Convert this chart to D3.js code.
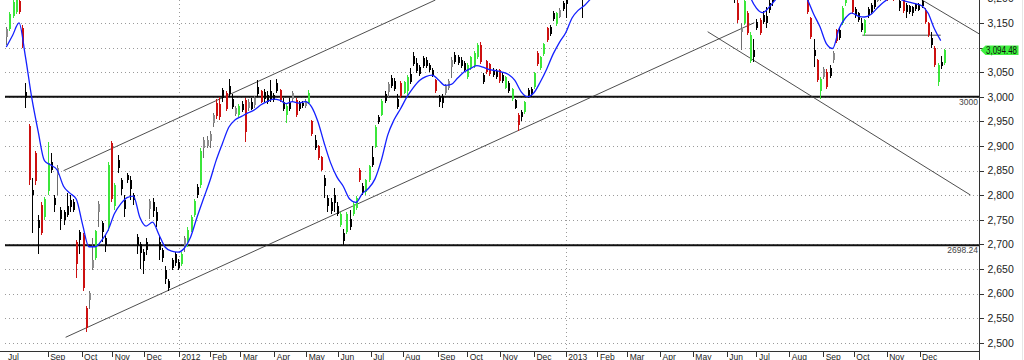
<!DOCTYPE html>
<html><head><meta charset="utf-8">
<script src="https://cdn.jsdelivr.net/npm/d3@7/dist/d3.min.js"></script>
<style>
html,body{margin:0;padding:0;background:#fff;}
svg{display:block;font-family:"Liberation Sans",Arial,sans-serif;}
</style></head><body>
<svg id="c" width="1024" height="360"></svg>
<script>
// ---------- data ----------
const candleStart = "2011-07-24";
const candleStepDays = 3;
const opens = [
3122,3138,3165,3172,3195,3140,3010,2940,2810,2885,
2750,2780,2755,2808,2868,2795,2840,2770,2765,2778,
2790,2785,2705,2725,2718,2570,2586,2652,2672,2766,
2743,2712,2735,2905,2778,2872,2830,2790,2840,2830,
2800,2715,2700,2685,2705,2772,2785,2765,2705,2688,
2648,2625,2668,2680,2665,2660,2696,2705,2730,2760,
2817,2820,2896,2900,2910,2946,2988,2985,3013,3008,
3022,2995,2965,2962,2985,2993,2978,2990,2984,3020,
3012,3010,3004,3012,3003,3028,3014,2990,2962,2990,
2995,2993,2987,2988,2982,2988,2950,2912,2900,2877,
2835,2795,2785,2800,2778,2740,2722,2725,2752,2762,
2774,2851,2818,2806,2830,2878,2898,2959,2963,3006,
3010,3038,3032,2996,3028,3008,3012,3046,3082,3068,
3060,3078,3075,3065,3054,3034,3000,3002,3007,3018,
3060,3085,3080,3075,3068,3040,3058,3062,3080,3105,
3044,3072,3066,3055,3052,3054,3044,3018,3028,2995,
2993,2963,2969,2968,3013,3015,3020,3089,3058,3086,
3140,3142,3170,3148,3163,3190,3202,3200,3222,3232,
3226,3215,3212,3236,3260,3265,3280,3285,3290,3285,
3275,3280,3295,3300,3305,3280,3270,3275,3285,3280,
3290,3295,3300,3285,3290,3300,3305,3310,3300,3275,
3280,3290,3285,3290,3310,3330,3350,3365,3375,3380,
3400,3410,3420,3440,3450,3400,3380,3340,3310,3212,
3190,3132,3150,3170,3072,3095,3152,3156,3166,3165,
3190,3205,3200,3218,3230,3245,3250,3240,3255,3245,
3235,3240,3215,3160,3095,3074,3012,3040,3050,3058,
3075,3135,3135,3150,3190,3210,3205,3178,3170,3150,
3130,3178,3186,3196,3195,3196,3205,3222,3205,3224,
3205,3194,3196,3186,3184,3182,3188,3188,3194,3176,
3150,3120,3100,3030,3070,3068];
const highs = [
3142,3172,3198,3210,3200,3145,3027,2945,2835,2890,
2760,2785,2796,2908,2885,2800,2862,2775,2770,2805,
2800,2792,2708,2730,2722,2575,2606,2712,2730,2788,
2748,2718,2868,2910,2825,2882,2835,2800,2845,2838,
2805,2720,2705,2690,2712,2792,2795,2775,2716,2692,
2655,2630,2672,2685,2670,2685,2716,2735,2760,2792,
2822,2895,2918,2920,2930,2966,2995,3000,3018,3012,
3035,3005,2982,2985,2992,2998,2995,2998,3002,3034,
3014,3016,3012,3034,3008,3035,3016,2998,2985,2998,
3012,2998,2992,2992,2996,3013,2952,2922,2902,2880,
2840,2800,2795,2815,2785,2765,2732,2765,2770,2785,
2798,2855,2825,2832,2862,2900,2942,2963,2995,3012,
3030,3045,3038,3006,3032,3032,3045,3058,3090,3078,
3064,3082,3080,3068,3058,3036,3004,3006,3026,3036,
3080,3090,3084,3080,3072,3068,3082,3092,3110,3112,
3048,3074,3068,3058,3056,3056,3048,3042,3032,3018,
2996,2966,2972,2992,3018,3020,3050,3092,3082,3110,
3142,3146,3174,3172,3180,3194,3210,3228,3240,3245,
3238,3225,3242,3266,3272,3285,3292,3298,3294,3290,
3286,3300,3306,3312,3308,3284,3282,3290,3290,3296,
3300,3306,3302,3295,3305,3310,3316,3314,3302,3286,
3295,3294,3296,3315,3335,3355,3370,3380,3386,3405,
3415,3425,3445,3458,3452,3406,3384,3346,3314,3230,
3196,3150,3205,3175,3132,3118,3158,3160,3174,3182,
3196,3212,3228,3236,3252,3258,3254,3262,3258,3250,
3248,3244,3220,3162,3118,3076,3040,3060,3056,3064,
3092,3138,3140,3185,3215,3225,3210,3182,3172,3160,
3158,3182,3190,3200,3212,3215,3220,3226,3222,3228,
3218,3205,3198,3190,3186,3185,3190,3190,3198,3180,
3152,3132,3104,3068,3082,3097];
const lows = [
3105,3134,3160,3168,3168,3100,2977,2820,2722,2820,
2680,2718,2750,2800,2845,2765,2800,2730,2740,2755,
2765,2765,2632,2680,2605,2521,2568,2648,2668,2735,
2705,2685,2728,2785,2770,2845,2800,2755,2825,2790,
2780,2680,2650,2640,2678,2752,2755,2735,2668,2665,
2620,2605,2648,2655,2648,2655,2684,2695,2725,2755,
2795,2815,2875,2895,2895,2938,2955,2952,2990,2970,
3000,2975,2960,2958,2968,2908,2970,2972,2978,3000,
2988,2990,2985,2990,2990,3008,2990,2970,2946,2970,
2990,2958,2970,2978,2978,2985,2920,2892,2872,2848,
2795,2765,2762,2765,2758,2735,2698,2720,2730,2758,
2770,2826,2800,2800,2826,2858,2895,2944,2960,2988,
3000,3018,3012,2975,2998,3005,3004,3026,3062,3048,
3042,3058,3058,3050,3040,3008,2980,2978,3004,3014,
3038,3066,3064,3058,3050,3036,3055,3058,3076,3066,
3026,3046,3042,3040,3036,3028,3028,3015,3008,2992,
2975,2930,2950,2964,2998,3000,3016,3062,3055,3082,
3112,3124,3154,3144,3160,3174,3160,3198,3212,3215,
3205,3160,3206,3230,3250,3258,3272,3278,3278,3268,
3270,3276,3290,3295,3275,3262,3265,3270,3272,3276,
3284,3290,3280,3280,3286,3295,3300,3295,3268,3270,
3276,3278,3280,3286,3305,3325,3345,3358,3368,3375,
3392,3402,3415,3432,3395,3372,3335,3302,3255,3190,
3150,3095,3146,3126,3068,3070,3136,3126,3148,3140,
3170,3185,3198,3210,3222,3238,3232,3236,3240,3228,
3230,3210,3168,3117,3060,3030,2996,3036,3016,3038,
3068,3110,3115,3146,3185,3200,3168,3160,3152,3132,
3124,3160,3168,3178,3192,3194,3198,3194,3200,3194,
3200,3175,3170,3160,3168,3165,3174,3174,3180,3148,
3122,3100,3060,3022,3056,3064];
const closes = [
3138,3168,3192,3200,3172,3105,2998,2830,2800,2828,
2733,2722,2792,2865,2852,2780,2856,2752,2750,2760,
2775,2770,2660,2708,2612,2530,2602,2668,2727,2782,
2725,2696,2862,2792,2820,2856,2812,2772,2830,2812,
2790,2698,2682,2667,2688,2788,2768,2748,2688,2672,
2630,2612,2652,2662,2652,2680,2712,2730,2756,2788,
2800,2890,2912,2912,2925,2962,2960,2958,2998,2975,
3006,2980,2978,2982,2972,2928,2990,2975,2998,3005,
2990,2995,2990,2996,2994,3012,2993,2975,2982,2975,
3008,2962,2974,2982,2992,3008,2925,2896,2876,2852,
2818,2778,2768,2784,2762,2762,2706,2762,2736,2782,
2795,2830,2805,2830,2860,2862,2938,2948,2992,2992,
3026,3022,3016,2980,3002,3030,3040,3030,3066,3052,
3046,3062,3062,3054,3044,3012,2990,2988,3022,3032,
3075,3070,3068,3062,3055,3065,3080,3088,3106,3070,
3030,3050,3046,3044,3040,3032,3032,3040,3012,3016,
2978,2942,2958,2990,3002,3004,3048,3066,3080,3108,
3116,3128,3158,3170,3177,3178,3188,3222,3232,3226,
3215,3212,3236,3260,3265,3280,3285,3290,3285,3275,
3280,3295,3300,3305,3280,3270,3275,3285,3280,3290,
3295,3300,3285,3290,3300,3305,3310,3300,3275,3280,
3290,3285,3290,3310,3330,3350,3365,3375,3380,3400,
3410,3420,3440,3450,3400,3380,3340,3310,3260,3198,
3156,3138,3195,3130,3126,3080,3140,3130,3152,3150,
3176,3192,3218,3230,3245,3250,3240,3255,3245,3235,
3240,3225,3172,3122,3082,3034,3036,3056,3020,3042,
3089,3114,3120,3180,3210,3215,3172,3164,3156,3136,
3155,3164,3172,3182,3208,3210,3215,3200,3218,3202,
3212,3180,3174,3172,3172,3170,3178,3176,3184,3152,
3126,3106,3064,3065,3062,3094.48];

const maStart = "2011-07-24";
const maStepDays = 6;
const maValues = [
3101,3125,3150,3082,2998,2930,2870,2861,2851,2818,
2804,2792,2740,2695,2695,2708,2728,2762,2782,2795,
2798,2755,2737,2745,2720,2694,2686,2684,2692,2715,
2755,2792,2828,2870,2905,2938,2953,2960,2967,2973,
2983,2990,2995,2993,2986,2990,2987,2990,2980,2950,
2906,2866,2837,2818,2792,2785,2803,2814,2833,2871,
2922,2953,2975,2999,3018,3033,3041,3044,3034,3023,
3025,3038,3050,3057,3063,3060,3055,3053,3050,3045,
3033,3010,3000,3008,3030,3056,3086,3110,3130,3160,
3176,3186,3200,3215,3230,3245,3255,3265,3275,3280,
3285,3285,3285,3290,3295,3295,3300,3300,3310,3335,
3360,3385,3405,3410,3385,3330,3260,3205,3180,3171,
3182,3197,3210,3215,3225,3215,3198,3168,3142,3108,
3098,3138,3160,3170,3164,3162,3167,3180,3192,3200,
3202,3196,3192,3189,3185,3170,3138,3114];

const yTicks = [2500,2550,2600,2650,2700,2750,2800,2850,2900,2950,3000,3050,3100,3150,3200];
const monthTickDates = ["2011-07-01","2011-09-01","2011-10-03","2011-11-01","2011-12-01","2012-01-03","2012-02-01","2012-03-01","2012-04-02","2012-05-02","2012-06-01","2012-07-02","2012-08-01","2012-09-03","2012-10-01","2012-11-01","2012-12-03","2013-01-02","2013-02-01","2013-03-01","2013-04-01","2013-05-02","2013-06-03","2013-07-01","2013-08-01","2013-09-02","2013-10-01","2013-11-01","2013-12-02"];
const monthTickLabels = ["Jul","Sep","Oct","Nov","Dec","2012","Feb","Mar","Apr","May","Jun","Jul","Aug","Sep","Oct","Nov","Dec","2013","Feb","Mar","Apr","May","Jun","Jul","Aug","Sep","Oct","Nov","Dec"];
const levelValues = [3000, 2698.24];
const levelLabels = ["3000", "2698.24"];
const trendLines = [
  [["2011-09-16",2849.6],["2012-09-01",3196.5]],
  [["2011-09-18",2511.0],["2013-06-29",3150.4]],
  [["2013-05-16",3132.1],["2014-01-19",2800.2]],
  [["2013-11-28",3204.7],["2014-01-28",3126.8]],
  [["2013-10-09",3125.0],["2013-12-22",3125.0]]
];
const lastPrice = 3094.48;

// ---------- layout ----------
const L = 5, R = 979.5, T = 0, B = 351.5;
const parse = d3.timeParse("%Y-%m-%d");
const x = d3.scaleTime().domain([parse("2012-01-03"), parse("2013-01-02")]).range([179, 565.7]);
const y = d3.scaleLinear().domain([2700, 3000]).range([244.3, 96.7]);

const svg = d3.select("#c");
svg.append("defs").append("clipPath").attr("id","plot")
  .append("rect").attr("x",L).attr("y",T).attr("width",R-L).attr("height",B-T);

const n = Math.min(opens.length, highs.length, lows.length, closes.length);
const s0 = parse(candleStart);
const candles = d3.range(n).map(i => ({
  date: d3.timeDay.offset(s0, candleStepDays*i),
  o: opens[i], h: highs[i], l: lows[i], c: closes[i]
}));
const m0 = parse(maStart);
const ma = maValues.map((v,k) => ({date: d3.timeDay.offset(m0, maStepDays*k), v}));

// grid
const grid = svg.append("g").attr("shape-rendering","crispEdges");
grid.selectAll("line.h").data(yTicks.filter(v => y(v) > 1 && y(v) < B-1)).join("line")
  .attr("x1",L).attr("x2",R).attr("y1",d=>Math.round(y(d))+0.5).attr("y2",d=>Math.round(y(d))+0.5)
  .attr("stroke","#9a9a9a").attr("stroke-dasharray","1,3");
const yearTicks = monthTickDates.filter((d,i)=>/^\d{4}$/.test(monthTickLabels[i]));
grid.selectAll("line.v").data(yearTicks).join("line")
  .attr("x1",d=>Math.round(x(parse(d)))+0.5).attr("x2",d=>Math.round(x(parse(d)))+0.5)
  .attr("y1",T).attr("y2",B).attr("stroke","#9a9a9a").attr("stroke-dasharray","1,3");

const plot = svg.append("g").attr("clip-path","url(#plot)");

// level lines
plot.selectAll("line.lvl").data(levelValues).join("line")
  .attr("x1",L).attr("x2",R).attr("y1",d=>y(d)).attr("y2",d=>y(d))
  .attr("stroke","#111").attr("stroke-width",2);

// trend lines
const tl = d3.line().x(d=>x(parse(d[0]))).y(d=>y(d[1]));
plot.selectAll("path.tl").data(trendLines).join("path")
  .attr("d",tl).attr("fill","none").attr("stroke","#3a3a3a").attr("stroke-width",0.9);

// candles
const GREEN="#3be63b", RED="#cc1010", BLACK="#000", GREY="#8c8c8c";
function col(d){const b=d.c-d.o; if(b>=20) return GREEN; if(b<=-20) return RED; return b>=0?GREY:BLACK;}
const cg = plot.append("g").attr("shape-rendering","crispEdges");
const cs = cg.selectAll("g").data(candles).join("g");
cs.append("line")
  .attr("x1",d=>Math.round(x(d.date))+0.5).attr("x2",d=>Math.round(x(d.date))+0.5)
  .attr("y1",d=>y(d.h)).attr("y2",d=>y(d.l))
  .attr("stroke",d=>col(d)===GREY?"#6e6e6e":col(d));
cs.append("rect")
  .attr("x",d=>Math.round(x(d.date))-0.5).attr("width",2)
  .attr("y",d=>y(Math.max(d.o,d.c)))
  .attr("height",d=>Math.max(1, Math.abs(y(d.o)-y(d.c))))
  .attr("fill",d=>col(d));

// moving average
plot.append("path").datum(ma)
  .attr("d", d3.line().x(d=>x(d.date)).y(d=>y(d.v)).curve(d3.curveMonotoneX))
  .attr("fill","none").attr("stroke","#1420ff").attr("stroke-width",1.3);

// level labels
svg.selectAll("text.lvl").data(levelValues).join("text")
  .attr("x",R-1.5).attr("y",d=>y(d)+8.3).attr("text-anchor","end")
  .attr("font-size","8.5px").attr("fill","#444").text((d,i)=>levelLabels[i]);

// frame
svg.append("line").attr("x1",0).attr("x2",R).attr("y1",B).attr("y2",B).attr("stroke","#333").attr("shape-rendering","crispEdges");
svg.append("line").attr("x1",R).attr("x2",R).attr("y1",0).attr("y2",360).attr("stroke","#333").attr("shape-rendering","crispEdges");
svg.append("line").attr("x1",1022.5).attr("x2",1022.5).attr("y1",0).attr("y2",360).attr("stroke","#e6e6e6");

// y axis
const py = y(lastPrice);
const ya = svg.append("g").attr("transform",`translate(${R},0)`)
  .call(d3.axisRight(y).tickValues(yTicks).tickSize(4).tickPadding(4).tickFormat(d3.format(",")));
ya.select(".domain").remove();
ya.selectAll("line").attr("stroke","#333").attr("shape-rendering","crispEdges");
ya.selectAll("text").attr("font-size","10.5px").attr("fill","#222").attr("font-family","Liberation Sans, Arial, sans-serif");
// the price tag hides the tick label it would collide with
ya.selectAll(".tick text").filter(d => Math.abs(y(d) - py) < 9).remove();

// x axis
const tickD = monthTickDates.map(parse);
const xa = svg.append("g").attr("transform",`translate(0,${B})`)
  .call(d3.axisBottom(x).tickValues(tickD.filter(d=>x(d)>L)).tickSize(5).tickFormat(d=>monthTickLabels[tickD.findIndex(t=>+t===+d)]));
xa.select(".domain").remove();
xa.selectAll("line").attr("stroke","#333").attr("shape-rendering","crispEdges");
xa.selectAll("text").attr("text-anchor","start").attr("x",2).attr("y",2).attr("dy","0.71em")
  .attr("font-size","8.5px").attr("fill","#222").attr("font-family","Liberation Sans, Arial, sans-serif");
// leading label for the partial first month
tickD.forEach((d,i)=>{ if (x(d) <= L) svg.append("text").attr("x",8).attr("y",B+8)
  .attr("font-size","8.5px").attr("fill","#222").text(monthTickLabels[i]); });

// last price tag
svg.append("path")
  .attr("d",`M${R+1},${py} L${R+6},${py-4.8} L1018.5,${py-4.8} L1018.5,${py+4.8} L${R+6},${py+4.8} Z`)
  .attr("fill","#3ef03e");
svg.append("text").attr("x",1001.5).attr("y",py+3.6).attr("text-anchor","middle")
  .attr("font-size","10px").attr("fill","#111").attr("textLength",31).attr("lengthAdjust","spacingAndGlyphs")
  .text(d3.format(",.2f")(lastPrice));
</script>
</body></html>
